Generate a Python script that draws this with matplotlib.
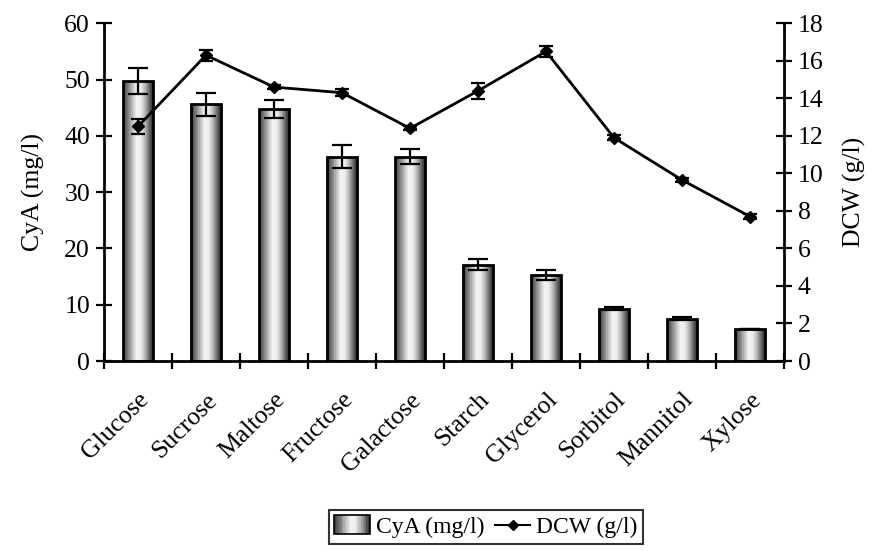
import numpy as np
import matplotlib
matplotlib.use("Agg")
import matplotlib.pyplot as plt
from matplotlib.colors import LinearSegmentedColormap
from matplotlib.legend_handler import HandlerBase
from matplotlib.patches import Rectangle
from matplotlib.lines import Line2D

categories = ["Glucose", "Sucrose", "Maltose", "Fructose", "Galactose",
              "Starch", "Glycerol", "Sorbitol", "Mannitol", "Xylose"]
cya = [49.7, 45.6, 44.8, 36.3, 36.3, 17.1, 15.3, 9.3, 7.5, 5.7]
cya_err = [2.3, 2.0, 1.6, 2.0, 1.3, 1.0, 0.9, 0.3, 0.3, 0.0]
dcw = [12.5, 16.3, 14.6, 14.3, 12.4, 14.4, 16.5, 11.9, 9.65, 7.7]
dcw_err = [0.4, 0.3, 0.12, 0.2, 0.1, 0.43, 0.27, 0.12, 0.12, 0.12]
left_ticks = [0, 10, 20, 30, 40, 50, 60]
right_ticks = [0, 2, 4, 6, 8, 10, 12, 14, 16, 18]

plt.rcParams['font.family'] = ['Liberation Serif', 'DejaVu Serif']
FS = 18.5

cmap = LinearSegmentedColormap.from_list(
    "cyl", [(0.0, "#3a3a3a"), (0.12, "#6a6a6a"), (0.3, "#b8b8b8"),
            (0.45, "#f4f4f4"), (0.6, "#ececec"), (0.75, "#b0b0b0"),
            (0.9, "#5a5a5a"), (1.0, "#2a2a2a")])

fig = plt.figure(figsize=(8.71, 5.52), dpi=100)
ax = fig.add_axes([104/871, 1-361/552, (784-104)/871, (361-23.3)/552])
ax2 = ax.twinx()

x = np.arange(len(categories))
bw = 0.43
bars = ax.bar(x, cya, width=bw, facecolor="none", edgecolor="black",
              linewidth=2.0, zorder=3)
grad = np.linspace(0, 1, 256).reshape(1, -1)
for b in bars:
    x0, y0 = b.get_x(), b.get_y()
    w, h = b.get_width(), b.get_height()
    im = ax.imshow(grad, cmap=cmap, aspect="auto",
                   extent=[x0, x0 + w, y0, y0 + h], zorder=2,
                   interpolation="bilinear")
    im.set_clip_path(b)
ax.errorbar(x, cya, yerr=cya_err, fmt="none", ecolor="black",
            elinewidth=1.6, capsize=7, capthick=1.6, zorder=4)

ax.set_xlim(-0.5, len(categories) - 0.5)
ax.set_ylim(0, 60)
ax.set_yticks(left_ticks)
ax.set_xticks(np.arange(len(categories) + 1) - 0.5)
ax.set_xticklabels([])
ax.set_xticks(x, minor=True)
ax.set_xticklabels(categories, minor=True, rotation=45, ha="right",
                   va="top", rotation_mode="anchor", fontsize=FS)
ax.tick_params(axis="x", which="minor", length=0, pad=20)
ax.tick_params(axis="x", which="major", direction="inout", length=12,
               width=1.6)
ax.tick_params(axis="y", direction="inout", length=12, width=1.6,
               labelsize=FS, pad=4)
ax.set_ylabel("CyA (mg/l)", fontsize=FS, labelpad=14)

ax2.errorbar(x, dcw, yerr=dcw_err, color="black", linewidth=2.0,
             marker="D", markersize=6, elinewidth=1.6, capsize=5,
             capthick=1.6, zorder=5)
ax2.set_ylim(0, 18)
ax2.set_yticks(right_ticks)
ax2.tick_params(axis="y", direction="inout", length=12, width=1.6,
                labelsize=FS, pad=4)
ax2.set_ylabel("DCW (g/l)", fontsize=FS, labelpad=14)

for a in (ax, ax2):
    a.spines["top"].set_visible(False)
    for s in ("left", "right", "bottom"):
        a.spines[s].set_linewidth(2.0)
ax.spines["right"].set_visible(False)
ax2.spines["left"].set_visible(False)
ax2.spines["bottom"].set_visible(False)


class GradHandler(HandlerBase):
    def create_artists(self, legend, orig_handle, xdescent, ydescent,
                       width, height, fontsize, trans):
        arts = []
        n = 20
        w = width
        x0 = -xdescent
        h = height * 1.2
        y0 = -ydescent - height * 0.1
        for i in range(n):
            r = Rectangle((x0 + i * w / n, y0), w / n, h,
                          facecolor=cmap((i + 0.5) / n), edgecolor="none",
                          transform=trans)
            arts.append(r)
        arts.append(Rectangle((x0, y0), w, h, facecolor="none",
                              edgecolor="black", linewidth=1.2,
                              transform=trans))
        return arts


bar_handle = Rectangle((0, 0), 1, 1)
line_handle = Line2D([], [], color="black", marker="D", markersize=5,
                     linewidth=1.5)
leg = fig.legend([bar_handle, line_handle], ["CyA (mg/l)", "DCW (g/l)"],
                 handler_map={Rectangle: GradHandler()},
                 loc="center", bbox_to_anchor=(486/871, 1-527/552), ncol=2,
                 fontsize=17, frameon=True, fancybox=False,
                 handlelength=1.5, handletextpad=0.25, columnspacing=0.45,
                 borderpad=0.25, borderaxespad=0)
leg.get_frame().set_edgecolor("black")
leg.get_frame().set_linewidth(1.5)

fig.savefig("out.png", dpi=100)
